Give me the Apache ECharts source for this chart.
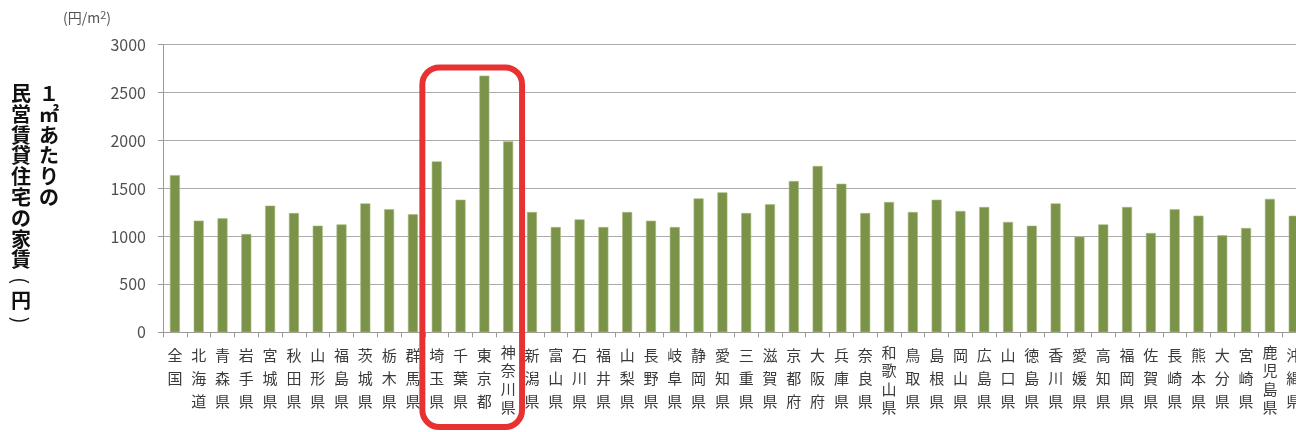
<!DOCTYPE html>
<html>
<head>
<meta charset="utf-8">
<script src="https://cdn.jsdelivr.net/npm/echarts@6/dist/echarts.min.js"></script>
<style>
html,body{margin:0;padding:0;background:#fff;overflow:hidden;width:1296px;height:432px;}
#c{width:1312px;height:432px;}
</style>
</head>
<body>
<div id="c"></div>
<script>
const categories = ['全国','北海道','青森県','岩手県','宮城県','秋田県','山形県','福島県','茨城県','栃木県','群馬県','埼玉県','千葉県','東京都','神奈川県','新潟県','富山県','石川県','福井県','山梨県','長野県','岐阜県','静岡県','愛知県','三重県','滋賀県','京都府','大阪府','兵庫県','奈良県','和歌山県','鳥取県','島根県','岡山県','広島県','山口県','徳島県','香川県','愛媛県','高知県','福岡県','佐賀県','長崎県','熊本県','大分県','宮崎県','鹿児島県','沖縄県'];
const rents = [1640,1165,1189,1025,1321,1244,1112,1126,1345,1283,1231,1783,1383,2677,1992,1255,1098,1178,1098,1255,1164,1098,1397,1460,1244,1335,1578,1735,1550,1244,1359,1255,1383,1265,1307,1151,1112,1345,998,1126,1307,1036,1283,1217,1012,1088,1392,1216];
const highlighted = ['埼玉県','千葉県','東京都','神奈川県'];
const yMin = 0, yMax = 3000, yStep = 500;
const unitLabel = ['(円/m', '2', ')'];
const axisTitleRight = '１㎡あたりの';
const axisTitleLeft = '民営賃貸住宅の家賃';
const axisTitleUnit = ['(', '円', ')'];

const FONT = '"Noto Sans CJK JP", "Noto Sans", sans-serif';
const chart = echarts.init(document.getElementById('c'), null, {renderer:'canvas', width: 1312, height: 432});

function vertLabel(v){
  const chars = Array.from(v);
  const st = chars.length >= 4 ? 'b' : 'a';
  return chars.map(ch => '{' + st + '|' + ch + '}').join('\n');
}

const LH = 20.8, TOP = 83;
const titleStyle = {fontSize: 20, lineHeight: LH, fontWeight: 'bold', fill: '#111', align: 'center', verticalAlign: 'top', fontFamily: FONT};
const leftLen = Array.from(axisTitleLeft).length;
function unitY(i){ return TOP + (leftLen + i) * LH + LH / 2; }

const graphics = [
  {type: 'text', left: 63, top: 9, style: {
    text: '{n|' + unitLabel[0] + '}{s|' + unitLabel[1] + '}{n|' + unitLabel[2] + '}',
    rich: {
      n: {fontSize: 14, fill: '#555', fontFamily: FONT, lineHeight: 16, verticalAlign: 'bottom'},
      s: {fontSize: 11, fill: '#555', fontFamily: FONT, lineHeight: 16, verticalAlign: 'top'}
    }
  }},
  {type: 'text', x: 49, y: TOP, style: Object.assign({}, titleStyle, {text: Array.from(axisTitleRight).join('\n')})},
  {type: 'text', x: 21, y: TOP, style: Object.assign({}, titleStyle, {text: Array.from(axisTitleLeft).join('\n')})},
  {type: 'text', x: 21, y: unitY(0), rotation: -Math.PI / 2, style: Object.assign({}, titleStyle, {text: axisTitleUnit[0], verticalAlign: 'middle', fontWeight: 'normal'})},
  {type: 'text', x: 21, y: unitY(1) - 1, style: Object.assign({}, titleStyle, {text: axisTitleUnit[1], verticalAlign: 'middle'})},
  {type: 'text', x: 21, y: unitY(2) - 2, rotation: -Math.PI / 2, style: Object.assign({}, titleStyle, {text: axisTitleUnit[2], verticalAlign: 'middle', fontWeight: 'normal'})}
];

const option = {
  animation: false,
  backgroundColor: '#fff',
  grid: {left: 163, width: 1142.6, top: 44.7, bottom: 99.7, containLabel: false},
  xAxis: {
    type: 'category',
    data: categories,
    axisLine: {show: true, lineStyle: {color: '#9a9a9a', width: 1}},
    axisTick: {show: true, length: 5, alignWithLabel: false, lineStyle: {color: '#9a9a9a'}},
    axisLabel: {
      interval: 0,
      margin: 11,
      verticalAlign: 'top',
      formatter: vertLabel,
      rich: {
        a: {fontSize: 15, lineHeight: 23.3, color: '#3a3a3a', fontFamily: FONT},
        b: {fontSize: 15, lineHeight: 18.3, color: '#3a3a3a', fontFamily: FONT}
      }
    }
  },
  yAxis: {
    type: 'value',
    min: yMin, max: yMax, interval: yStep,
    axisLine: {show: true, lineStyle: {color: '#9a9a9a', width: 1}},
    axisTick: {show: true, length: 5, lineStyle: {color: '#9a9a9a'}},
    axisLabel: {margin: 17, fontSize: 16, color: '#505050', fontFamily: FONT, formatter: v => String(v)},
    splitLine: {show: true, lineStyle: {color: '#ababab', width: 1.2}}
  },
  series: [{
    type: 'bar',
    data: rents,
    barWidth: 10,
    itemStyle: {color: '#7b9349', borderColor: '#a9bb80', borderWidth: 0.6}
  }],
  graphic: graphics
};
chart.setOption(option);

// Red highlight box around the Tokyo metropolitan prefectures
const x0 = chart.convertToPixel({xAxisIndex: 0}, highlighted[0]);
const x1 = chart.convertToPixel({xAxisIndex: 0}, highlighted[highlighted.length - 1]);
const band = chart.convertToPixel({xAxisIndex: 0}, categories[1]) - chart.convertToPixel({xAxisIndex: 0}, categories[0]);
const boxLeft = x0 - band / 2 - 2.5;
const boxRight = x1 + band / 2 + 2;
chart.setOption({
  graphic: graphics.concat([
    {type: 'rect', z: 100, shape: {x: boxLeft, y: 67.5, width: boxRight - boxLeft, height: 359.5, r: 17},
     style: {fill: 'none', stroke: '#e83232', lineWidth: 6}}
  ])
}, {replaceMerge: ['graphic']});
</script>
</body>
</html>
